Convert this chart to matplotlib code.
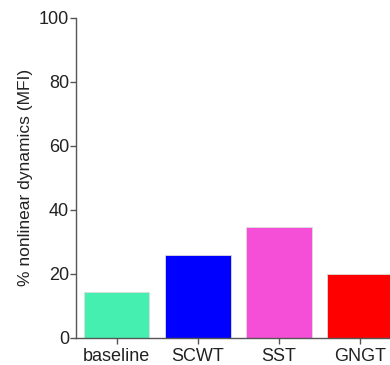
import matplotlib
matplotlib.use("Agg")
import matplotlib.pyplot as plt

plt.rcParams["font.family"] = ["Liberation Sans", "DejaVu Sans"]

categories = ["baseline", "SCWT", "SST", "GNGT"]
values = [14.3, 25.8, 34.8, 19.9]
colors = ["#45EFB0", "#0000FF", "#F44FD6", "#FF0000"]
yticks = [0, 20, 40, 60, 80, 100]

fig = plt.figure(figsize=(3.9, 3.65), dpi=100)
ax = fig.add_axes([0.195, 0.074, 0.805, 0.877])

x = range(len(categories))
ax.bar(x, values, width=0.81, color=colors, edgecolor="#dddddd", linewidth=0.6)

ax.set_xlim(-0.5, 3.37)
ax.set_ylim(0, 100)
ax.set_yticks(yticks)
ax.set_xticks(list(x))
ax.set_xticklabels(categories)
ax.set_ylabel("% nonlinear dynamics (MFI)", fontsize=12.5, color="#222222")

for side in ["top", "right"]:
    ax.spines[side].set_visible(False)
for side in ["left", "bottom"]:
    ax.spines[side].set_color("#555555")
    ax.spines[side].set_linewidth(1.0)
ax.tick_params(axis="both", labelsize=13, colors="#555555", length=4, width=1.0, labelcolor="#222222")
ax.tick_params(axis="y", pad=1)
ax.tick_params(axis="x", pad=3)

fig.savefig("out.png", dpi=100)
